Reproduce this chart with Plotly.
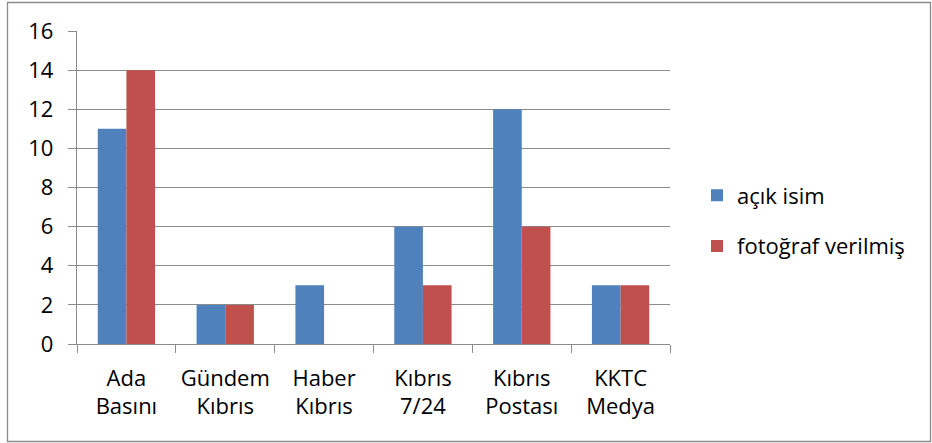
import plotly.graph_objects as go

categories = ["Ada<br>Basını", "Gündem<br>Kıbrıs", "Haber<br>Kıbrıs", "Kıbrıs<br>7/24", "Kıbrıs<br>Postası", "KKTC<br>Medya"]
acik_isim = [11, 2, 3, 6, 12, 3]
fotograf_verilmis = [14, 2, 0, 3, 6, 3]
y_ticks = [0, 2, 4, 6, 8, 10, 12, 14, 16]

W, H = 932, 443
L, R, T, B = 77, 670, 31, 344

def px_x(p):
    return (p - L) / (R - L)

def px_y(p):
    return (B - p) / (B - T)

FONT = "Open Sans, Lato, sans-serif"
GRID = "#8c8c8c"

fig = go.Figure()
fig.add_trace(go.Bar(x=categories, y=acik_isim, name="açık isim",
                     marker=dict(color="#4F81BD", line=dict(width=0)), legendgroup="a"))
fig.add_trace(go.Bar(x=categories, y=fotograf_verilmis, name="fotoğraf verilmiş",
                     marker=dict(color="#C0504D", line=dict(width=0)), legendgroup="b"))

fig.update_layout(
    width=W, height=H,
    margin=dict(l=L, r=W - R, t=T, b=H - B, pad=0, autoexpand=False),
    paper_bgcolor="white", plot_bgcolor="white",
    barmode="group", bargap=0.42, bargroupgap=0,
    font=dict(family=FONT, size=22, color="#000000"),
    legend=dict(x=px_x(697), y=px_y(221), xanchor="left", yanchor="middle",
                traceorder="grouped", tracegroupgap=19,
                font=dict(family=FONT, size=22, color="#000000"),
                bgcolor="rgba(0,0,0,0)"),
    showlegend=True,
)
fig.update_yaxes(range=[0, 16], tickvals=y_ticks, showgrid=True, gridcolor=GRID, gridwidth=1.3,
                 showline=True, linecolor=GRID, linewidth=1.3,
                 ticks="outside", ticklen=8, tickcolor=GRID, tickwidth=1.3,
                 ticklabelstandoff=10, zeroline=False, fixedrange=True, automargin=False)
fig.update_xaxes(showline=True, linecolor=GRID, linewidth=1.3,
                 ticks="outside", tickson="boundaries", ticklen=8, tickcolor=GRID, tickwidth=1.3,
                 ticklabelstandoff=14, showgrid=False, automargin=False)

fig.add_shape(type="rect", xref="paper", yref="paper",
              x0=px_x(7.5), x1=px_x(930.5), y0=px_y(441.5), y1=px_y(2.5),
              line=dict(color="#8c8c8c", width=1.3), fillcolor="rgba(0,0,0,0)", layer="below")

fig.write_html("out.html", config={"displayModeBar": False},
               post_script="document.body.style.margin='0';document.body.style.overflow='hidden';")
